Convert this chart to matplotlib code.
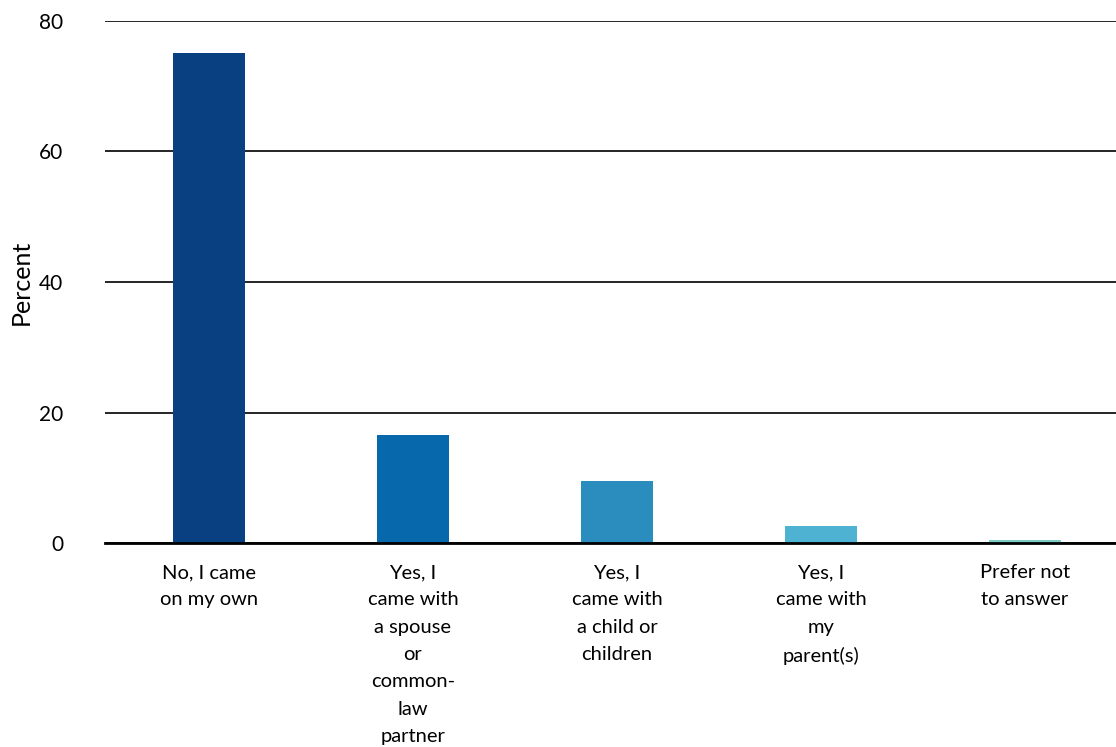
import matplotlib
matplotlib.use('Agg')
import matplotlib.pyplot as plt

plt.rcParams['font.family'] = ['Lato', 'DejaVu Sans']

categories = ['No, I came\non my own',
              'Yes, I\ncame with\na spouse\nor\ncommon-\nlaw\npartner',
              'Yes, I\ncame with\na child or\nchildren',
              'Yes, I\ncame with\nmy\nparent(s)',
              'Prefer not\nto answer']
values = [75.1, 16.6, 9.5, 2.6, 0.5]
colors = ['#084081', '#0868ac', '#2b8cbe', '#4eb3d3', '#7bccc4']

fig = plt.figure(figsize=(11.16, 7.47), dpi=100)
ax = fig.add_axes([0.094, 0.273, 0.906, 0.699])

x = range(len(categories))
ax.bar(x, values, width=0.353, color=colors, zorder=3)

ax.set_xlim(-0.51, 4.446)
ax.set_ylim(0, 80)
ax.set_yticks([0, 20, 40, 60, 80])
ax.yaxis.grid(True, color='black', linewidth=1.2, zorder=0)
ax.set_axisbelow(True)
for s in ['top', 'right', 'left']:
    ax.spines[s].set_visible(False)
ax.spines['bottom'].set_linewidth(2)
ax.spines['bottom'].set_zorder(4)

ax.set_xticks(list(x))
ax.set_xticklabels(categories, fontsize=14.5, linespacing=1.74, va='top')
ax.tick_params(axis='x', length=0, pad=15)
ax.tick_params(axis='y', length=0, pad=30, labelsize=15)
ax.set_ylabel('Percent', fontsize=18)
ax.yaxis.set_label_coords(-0.071, 0.5)

fig.savefig('out.png', dpi=100)
